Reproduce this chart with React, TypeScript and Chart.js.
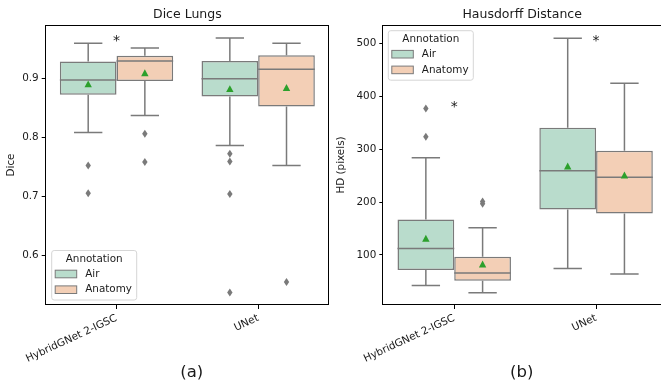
import React, { useEffect, useRef } from "react";
import { Chart, registerables } from "chart.js";
Chart.register(...registerables);

// ---------- data ----------
const categories = ["HybridGNet 2-IGSC", "UNet"];
const seriesNames = ["Air", "Anatomy"];

// [lowWhisker, Q1, median, Q3, highWhisker] per category
const diceAirStats = [[0.808, 0.872, 0.897, 0.928, 0.959], [0.786, 0.869, 0.899, 0.929, 0.968]];
const diceAnatomyStats = [[0.837, 0.895, 0.929, 0.938, 0.951], [0.752, 0.852, 0.915, 0.939, 0.959]];
const diceAirMeans = [0.89, 0.882];
const diceAnatomyMeans = [0.909, 0.884];
const diceAirOutliers = [[0.752, 0.705], [0.772, 0.759, 0.704, 0.537]];
const diceAnatomyOutliers = [[0.806, 0.758], [0.555]];
const diceTicks = [0.6, 0.7, 0.8, 0.9];
const diceStars = [{ cat: 0, value: 0.97 }];

const hdAirStats = [[42.5, 71.5, 112.5, 167.3, 283.7], [74.7, 186, 259, 340.5, 509.5]];
const hdAnatomyStats = [[28.6, 51.3, 65.8, 96.6, 151.4], [63.9, 178.6, 246.7, 297, 424.4]];
const hdAirMeans = [131.4, 268];
const hdAnatomyMeans = [82.8, 251];
const hdAirOutliers = [[377, 323.5], []];
const hdAnatomyOutliers = [[201, 197], []];
const hdTicks = [100, 200, 300, 400, 500];
const hdStars = [{ cat: 0, value: 386.6 }, { cat: 1, value: 512.5 }];

// ---------- styles ----------
const FONT = "'DejaVu Sans', sans-serif";
const AIR = "rgb(185,220,204)";
const ANAT = "rgb(243,207,182)";
const GREY = "rgb(122,122,122)";
const GREEN = "#2ca02c";
const TEXT = "#1a1a1a";

interface PanelCfg {
  title: string;
  panel: string;
  yTitle: string;
  min: number;
  max: number;
  ticks: number[];
  fmt: (v: number) => string;
  stats: number[][][];
  means: number[][];
  outliers: number[][][];
  stars: { cat: number; value: number }[];
  legend: "bottom" | "top";
  yWidth: number;
  padRight: number;
}

function drawLegend(ctx: CanvasRenderingContext2D, x: number, y: number) {
  const w = 85, h = 49.5, r = 2.5;
  ctx.save();
  ctx.beginPath();
  ctx.moveTo(x + r, y);
  ctx.lineTo(x + w - r, y);
  ctx.quadraticCurveTo(x + w, y, x + w, y + r);
  ctx.lineTo(x + w, y + h - r);
  ctx.quadraticCurveTo(x + w, y + h, x + w - r, y + h);
  ctx.lineTo(x + r, y + h);
  ctx.quadraticCurveTo(x, y + h, x, y + h - r);
  ctx.lineTo(x, y + r);
  ctx.quadraticCurveTo(x, y, x + r, y);
  ctx.closePath();
  ctx.fillStyle = "rgba(255,255,255,0.8)";
  ctx.fill();
  ctx.strokeStyle = "#d6d6d6";
  ctx.lineWidth = 1;
  ctx.stroke();
  ctx.fillStyle = TEXT;
  ctx.font = `10.4px ${FONT}`;
  ctx.textBaseline = "middle";
  ctx.textAlign = "center";
  ctx.fillText("Annotation", x + w / 2, y + 8.5);
  const fills = [AIR, ANAT];
  seriesNames.forEach((name, i) => {
    const cy = y + 23.5 + i * 15.7;
    ctx.fillStyle = fills[i];
    ctx.fillRect(x + 3.5, cy - 3.8, 21.5, 7.6);
    ctx.strokeStyle = GREY;
    ctx.lineWidth = 1;
    ctx.strokeRect(x + 3.5, cy - 3.8, 21.5, 7.6);
    ctx.fillStyle = TEXT;
    ctx.textAlign = "left";
    ctx.fillText(name, x + 33.5, cy);
  });
  ctx.restore();
}

function makePlugin(cfg: PanelCfg) {
  return {
    id: "boxExtras",
    afterDatasetsDraw(chart: any) {
      const ctx: CanvasRenderingContext2D = chart.ctx;
      const ys = chart.scales.y;
      const xs = chart.scales.x;
      const area = chart.chartArea;
      ctx.save();
      ctx.beginPath();
      ctx.rect(area.left, area.top, area.right - area.left, area.bottom - area.top);
      ctx.clip();
      cfg.stats.forEach((series, d) => {
        const meta = chart.getDatasetMeta(d);
        series.forEach((s, i) => {
          const el = meta.data[i];
          const { x, width } = el.getProps(["x", "width"], true);
          const [lo, q1, med, q3, hi] = s;
          ctx.strokeStyle = GREY;
          ctx.lineWidth = 1.5;
          ctx.beginPath();
          ctx.moveTo(x, ys.getPixelForValue(q3));
          ctx.lineTo(x, ys.getPixelForValue(hi));
          ctx.moveTo(x, ys.getPixelForValue(q1));
          ctx.lineTo(x, ys.getPixelForValue(lo));
          ctx.moveTo(x - width / 4, ys.getPixelForValue(hi));
          ctx.lineTo(x + width / 4, ys.getPixelForValue(hi));
          ctx.moveTo(x - width / 4, ys.getPixelForValue(lo));
          ctx.lineTo(x + width / 4, ys.getPixelForValue(lo));
          ctx.moveTo(x - width / 2, ys.getPixelForValue(med));
          ctx.lineTo(x + width / 2, ys.getPixelForValue(med));
          ctx.stroke();
          // outliers
          ctx.fillStyle = GREY;
          cfg.outliers[d][i].forEach((v) => {
            const py = ys.getPixelForValue(v);
            ctx.beginPath();
            ctx.moveTo(x, py - 4);
            ctx.lineTo(x + 2.7, py);
            ctx.lineTo(x, py + 4);
            ctx.lineTo(x - 2.7, py);
            ctx.closePath();
            ctx.fill();
          });
          // mean
          const my = ys.getPixelForValue(cfg.means[d][i]);
          ctx.fillStyle = GREEN;
          ctx.beginPath();
          ctx.moveTo(x, my - 3.5);
          ctx.lineTo(x + 3.7, my + 3.3);
          ctx.lineTo(x - 3.7, my + 3.3);
          ctx.closePath();
          ctx.fill();
        });
      });
      ctx.restore();

      ctx.save();
      // stars
      ctx.fillStyle = TEXT;
      ctx.font = `14px ${FONT}`;
      ctx.textAlign = "center";
      ctx.textBaseline = "alphabetic";
      cfg.stars.forEach((s) => {
        const px = xs.getPixelForValue(s.cat);
        const py = ys.getPixelForValue(s.value);
        ctx.fillText("*", px, py + 8);
      });
      // frame
      ctx.strokeStyle = "#000";
      ctx.lineWidth = 1;
      ctx.strokeRect(
        Math.round(area.left) - 0.5,
        Math.round(area.top) + 0.5,
        Math.round(area.right) - Math.round(area.left),
        Math.round(area.bottom) - Math.round(area.top) - 1
      );
      // title
      ctx.fillStyle = TEXT;
      ctx.font = `12.5px ${FONT}`;
      ctx.textBaseline = "middle";
      ctx.fillText(cfg.title, (area.left + area.right) / 2 - (cfg.legend === "top" ? 3 : 0), area.top - 10);
      // panel label
      ctx.font = `16.5px ${FONT}`;
      ctx.fillText(cfg.panel, 191.7, 373);
      ctx.restore();
      if (cfg.legend === "bottom") drawLegend(chart.ctx, area.left + 6, area.bottom - 54.5);
      else drawLegend(chart.ctx, area.left + 5, area.top + 5.7);
    },
  };
}

function Panel({ cfg, left, width }: { cfg: PanelCfg; left: number; width: number }) {
  const ref = useRef<HTMLCanvasElement>(null);
  useEffect(() => {
    if (!ref.current) return;
    const fills = [AIR, ANAT];
    const chart = new Chart(ref.current, {
      type: "bar",
      data: {
        labels: categories,
        datasets: cfg.stats.map((series, d) => ({
          label: seriesNames[d],
          data: series.map((s) => [s[1], s[3]]),
          backgroundColor: fills[d],
          borderColor: GREY,
          borderWidth: 1.5,
          borderSkipped: false,
          categoryPercentage: 0.8,
          barPercentage: 1.0,
        })) as any,
      },
      options: {
        animation: false,
        responsive: false,
        devicePixelRatio: 1,
        layout: { padding: { top: 25, right: cfg.padRight, left: 0, bottom: 0 } },
        plugins: { legend: { display: false }, tooltip: { enabled: false }, title: { display: false } },
        scales: {
          x: {
            type: "category",
            offset: true,
            border: { display: false },
            grid: { offset: false, drawOnChartArea: false, tickLength: 4, color: "#000" },
            ticks: {
              minRotation: 25,
              maxRotation: 25,
              padding: 3,
              color: TEXT,
              font: { family: FONT, size: 10.4 },
            },
            afterFit: (s: any) => {
              s.height = 82;
            },
          },
          y: {
            type: "linear",
            min: cfg.min,
            max: cfg.max,
            border: { display: false },
            grid: { drawOnChartArea: false, tickLength: 4, color: "#000" },
            ticks: {
              padding: 3,
              color: TEXT,
              font: { family: FONT, size: 10.4 },
              callback: (v: any) => cfg.fmt(Number(v)),
            },
            afterBuildTicks: (s: any) => {
              s.ticks = cfg.ticks.map((v) => ({ value: v }));
            },
            afterFit: (s: any) => {
              s.width = cfg.yWidth;
            },
            title: {
              display: true,
              text: cfg.yTitle,
              color: TEXT,
              font: { family: FONT, size: 10.4 },
              padding: { top: 5.5, bottom: 0 },
            },
          },
        },
      } as any,
      plugins: [makePlugin(cfg)],
    });
    return () => chart.destroy();
  }, []);
  return (
    <div style={{ position: "absolute", left, top: 0, width, height: 387 }}>
      <canvas ref={ref} width={width} height={387} style={{ display: "block" }} />
    </div>
  );
}

const diceCfg: PanelCfg = {
  title: "Dice Lungs",
  panel: "(a)",
  yTitle: "Dice",
  min: 0.516,
  max: 0.99,
  ticks: diceTicks,
  fmt: (v) => v.toFixed(1),
  stats: [diceAirStats, diceAnatomyStats],
  means: [diceAirMeans, diceAnatomyMeans],
  outliers: [diceAirOutliers, diceAnatomyOutliers],
  stars: diceStars,
  legend: "bottom",
  yWidth: 45.7,
  padRight: 1,
};

const hdCfg: PanelCfg = {
  title: "Hausdorff Distance",
  panel: "(b)",
  yTitle: "HD (pixels)",
  min: 5.5,
  max: 534.6,
  ticks: hdTicks,
  fmt: (v) => String(Math.round(v)),
  stats: [hdAirStats, hdAnatomyStats],
  means: [hdAirMeans, hdAnatomyMeans],
  outliers: [hdAirOutliers, hdAnatomyOutliers],
  stars: hdStars,
  legend: "top",
  yWidth: 53.3,
  padRight: 0,
};

export default function App() {
  return (
    <div
      style={{
        position: "fixed",
        left: 0,
        top: 0,
        width: 661,
        height: 387,
        overflow: "hidden",
        background: "#fff",
      }}
    >
      <Panel cfg={diceCfg} left={0} width={330} />
      <Panel cfg={hdCfg} left={330} width={337} />
    </div>
  );
}
